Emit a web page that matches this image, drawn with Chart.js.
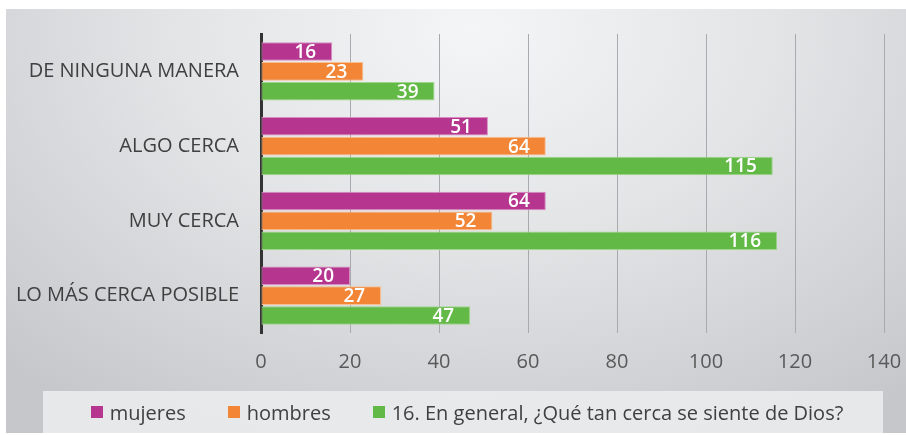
<!DOCTYPE html>
<html>
<head>
<meta charset="utf-8">
<script src="https://cdn.jsdelivr.net/npm/chart.js@4"></script>
<style>
  body { margin: 0; background: #fff; font-family: 'Open Sans', 'Noto Sans', sans-serif; }
  #frame {
    position: absolute; left: 6px; top: 9px; width: 900px; height: 424px;
    background: radial-gradient(ellipse 75% 110% at 52% 5%, #f4f5f6 0%, #e3e4e6 45%, #c5c7ca 100%);
  }
  #wrap { position: absolute; left: 0; top: 0; width: 906px; height: 435px; }
  #legend {
    position: absolute; left: 43px; top: 391px; width: 840px; height: 42px;
    background: rgba(236, 237, 238, 0.85);
    display: flex; align-items: center; justify-content: center;
    padding-left: 8px; box-sizing: border-box;
    font-size: 20px; color: #404040; white-space: nowrap;
  }
  #legend .item { display: flex; align-items: center; margin: 0 21px; }
  #legend .box { width: 12px; height: 12px; margin-right: 7px; }
</style>
</head>
<body>
<div id="frame"></div>
<div id="wrap"><canvas id="chart" width="906" height="435"></canvas></div>
<div id="legend"></div>
<script>
const categories = ['DE NINGUNA MANERA', 'ALGO CERCA', 'MUY CERCA', 'LO MÁS CERCA POSIBLE'];
const mujeres = [16, 51, 64, 20];
const hombres = [23, 64, 52, 27];
const general = [39, 115, 116, 47];
const seriesNames = ['mujeres', 'hombres', '16. En general, ¿Qué tan cerca se siente de Dios?'];
const xTicks = [0, 20, 40, 60, 80, 100, 120, 140];

const FONT = "'Open Sans', 'Noto Sans', sans-serif";

// white values drawn inside the end of each bar
const barLabels = {
  id: 'barLabels',
  afterDatasetsDraw(chart) {
    const ctx = chart.ctx;
    ctx.save();
    ctx.fillStyle = '#ffffff';
    ctx.font = `600 19px ${FONT}`;
    ctx.textAlign = 'right';
    ctx.textBaseline = 'middle';
    chart.data.datasets.forEach((ds, i) => {
      chart.getDatasetMeta(i).data.forEach((bar, j) => {
        ctx.fillText(String(ds.data[j]), bar.x - 16, bar.y + 1);
      });
    });
    ctx.restore();
  }
};

function makeDataset(label, data, color, border) {
  return {
    label: label,
    data: data,
    backgroundColor: color,
    borderColor: border,
    borderWidth: 1,
    borderSkipped: false,
    categoryPercentage: 0.8,
    barPercentage: 0.93,
  };
}

const chart = new Chart(document.getElementById('chart').getContext('2d'), {
  type: 'bar',
  data: {
    labels: categories,
    datasets: [
      makeDataset(seriesNames[0], mujeres, '#b5358f', '#d98cc0'),
      makeDataset(seriesNames[1], hombres, '#f28536', '#f8c08f'),
      makeDataset(seriesNames[2], general, '#62b946', '#9fd58c'),
    ],
  },
  options: {
    indexAxis: 'y',
    responsive: false,
    animation: false,
    layout: { padding: { left: 0, right: 22, top: 33, bottom: 61 } },
    scales: {
      x: {
        min: 0,
        max: 140,
        afterBuildTicks(scale) {
          scale.ticks = xTicks.map(v => ({ value: v }));
        },
        afterFit(scale) {
          scale.height = 41;
          scale.paddingLeft = 0;
          scale.paddingRight = 0;
        },
        grid: { color: '#a8aaad', lineWidth: 1, drawTicks: false },
        border: { display: false },
        ticks: { color: '#595959', padding: 17, font: { family: FONT, size: 20 } },
      },
      y: {
        afterFit(scale) { scale.width = 261; },
        grid: { display: false, drawTicks: false },
        border: { display: true, color: '#333333', width: 3 },
        ticks: { color: '#404040', padding: 22, font: { family: FONT, size: 20 } },
      },
    },
    plugins: {
      legend: { display: false },
      tooltip: { enabled: false },
    },
  },
  plugins: [barLabels],
});

// html legend built from the datasets
const legendEl = document.getElementById('legend');
chart.data.datasets.forEach(ds => {
  const item = document.createElement('span');
  item.className = 'item';
  const box = document.createElement('span');
  box.className = 'box';
  box.style.background = ds.backgroundColor;
  item.appendChild(box);
  item.appendChild(document.createTextNode(ds.label));
  legendEl.appendChild(item);
});
</script>
</body>
</html>
